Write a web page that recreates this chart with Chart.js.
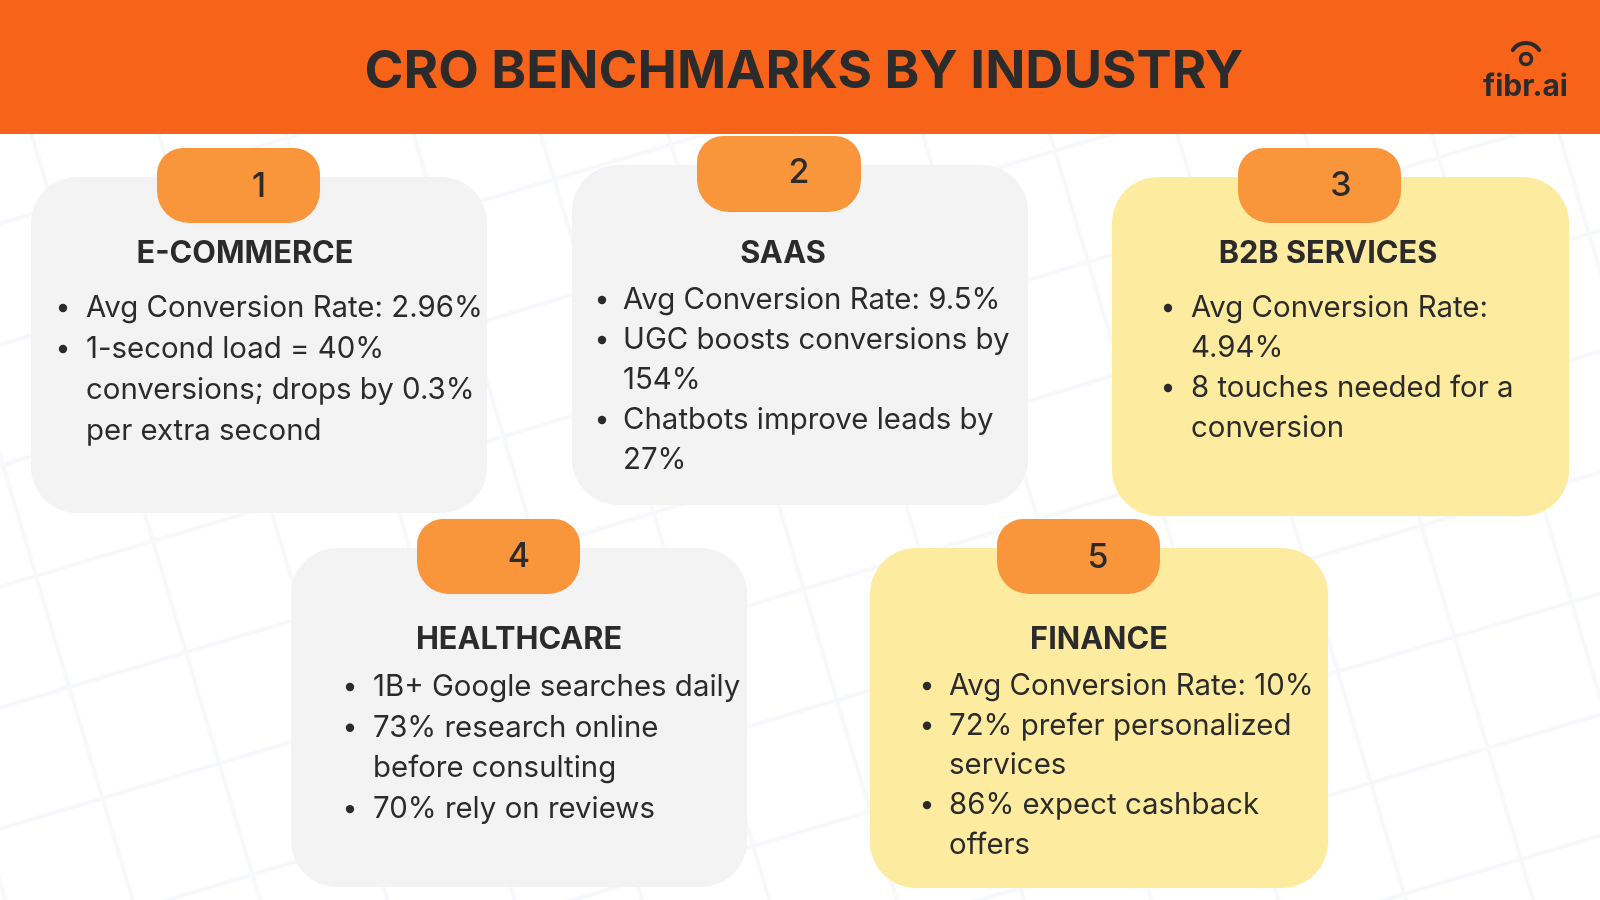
<!DOCTYPE html>
<html>
<head>
<meta charset="utf-8">
<title>CRO Benchmarks by Industry</title>
<script src="https://cdn.jsdelivr.net/npm/chart.js@4/dist/chart.umd.min.js"></script>
<style>
  html, body { margin: 0; padding: 0; background: #ffffff; }
  #wrap { width: 1600px; height: 900px; }
</style>
</head>
<body>
<div id="wrap"><canvas id="board" width="1600" height="900"></canvas></div>
<script>
// ---- content ----
const pageTitle = 'CRO BENCHMARKS BY INDUSTRY';
const brand = 'fibr.ai';
const cardNumbers = ['1', '2', '3', '4', '5'];
const industries = ['E-COMMERCE', 'SAAS', 'B2B SERVICES', 'HEALTHCARE', 'FINANCE'];
// each bullet is a list of its wrapped lines
const ecommerceBullets = [
  ['Avg Conversion Rate: 2.96%'],
  ['1-second load = 40%', 'conversions; drops by 0.3%', 'per extra second']
];
const saasBullets = [
  ['Avg Conversion Rate: 9.5%'],
  ['UGC boosts conversions by', '154%'],
  ['Chatbots improve leads by', '27%']
];
const b2bBullets = [
  ['Avg Conversion Rate:', '4.94%'],
  ['8 touches needed for a', 'conversion']
];
const healthcareBullets = [
  ['1B+ Google searches daily'],
  ['73% research online', 'before consulting'],
  ['70% rely on reviews']
];
const financeBullets = [
  ['Avg Conversion Rate: 10%'],
  ['72% prefer personalized', 'services'],
  ['86% expect cashback', 'offers']
];
const cardBullets = [ecommerceBullets, saasBullets, b2bBullets, healthcareBullets, financeBullets];

// ---- layout (page units, 1600 x 900) ----
const GRAY = '#f3f3f3';
const YELLOW = '#fdeca0';
const cardLayout = [
  { box: [31, 177, 487, 513],   tab: [157, 148, 320, 223],  num: [259, 187], titleY: 254, dotX: 63,   textX: 86,   lineY: 308, gap: 41,   fill: GRAY },
  { box: [572, 165, 1028, 505], tab: [697, 136, 861, 212],  num: [799, 173], titleY: 254, dotX: 602,  textX: 623,  lineY: 300, gap: 40,   fill: GRAY },
  { box: [1112, 177, 1569, 516], tab: [1238, 148, 1401, 223], num: [1341, 186], titleY: 254, dotX: 1168, textX: 1191, lineY: 308, gap: 40,   fill: YELLOW },
  { box: [291, 548, 747, 887],  tab: [417, 519, 580, 594],  num: [519, 557], titleY: 640, dotX: 350,  textX: 373,  lineY: 687, gap: 40.7, fill: GRAY },
  { box: [870, 548, 1328, 888], tab: [997, 519, 1160, 594], num: [1098, 558], titleY: 640, dotX: 927,  textX: 949,  lineY: 686, gap: 39.7, fill: YELLOW }
];
const titleCenters = [245, 783, 1328, 519, 1099];
const INK = '#2b2b2b';
const HEADER = '#f76318';
const TAB = '#f9963b';

function fitSize(ctx, text, weight, family, width) {
  ctx.font = weight + ' 100px ' + family;
  return 100 * width / ctx.measureText(text).width;
}

const boardPlugin = {
  id: 'board',
  beforeDraw(chart) {
    const ctx = chart.ctx;
    const sx = chart.scales.x, sy = chart.scales.y;
    const px = v => sx.getPixelForValue(v);
    const py = v => sy.getPixelForValue(v);

    ctx.save();
    ctx.fillStyle = '#ffffff';
    ctx.fillRect(0, 0, chart.width, chart.height);

    // faint tilted grid in the background
    ctx.save();
    ctx.translate(px(36), py(576));
    ctx.rotate(-0.29);
    ctx.strokeStyle = '#f7f8fc';
    ctx.lineWidth = 4;
    for (let k = -20; k <= 20; k++) {
      ctx.beginPath();
      ctx.moveTo(k * 122, -2000); ctx.lineTo(k * 122, 2000);
      ctx.moveTo(-2000, k * 116); ctx.lineTo(2000, k * 116);
      ctx.stroke();
    }
    ctx.restore();

    // header band
    ctx.fillStyle = HEADER;
    ctx.fillRect(px(0), py(0), px(1600) - px(0), py(134) - py(0));

    const fam = 'Inter, "Noto Sans", sans-serif';
    ctx.fillStyle = INK;
    ctx.textAlign = 'center';
    ctx.textBaseline = 'alphabetic';
    const hs = fitSize(ctx, pageTitle, '700', fam, 879);
    ctx.font = '700 ' + hs + 'px ' + fam;
    ctx.fillText(pageTitle, px(804), py(88));

    // logo
    ctx.textAlign = 'left';
    const ls = fitSize(ctx, brand, '700', fam, 85);
    ctx.font = '700 ' + ls + 'px ' + fam;
    ctx.fillText(brand, px(1483), py(96));
    ctx.strokeStyle = INK;
    ctx.lineWidth = 3.5;
    ctx.beginPath();
    ctx.arc(px(1526), py(59), 5.5, 0, Math.PI * 2);
    ctx.stroke();
    ctx.lineWidth = 4;
    ctx.lineCap = 'round';
    ctx.beginPath();
    ctx.arc(px(1526), py(59), 16, Math.PI * 1.19, Math.PI * 1.81);
    ctx.stroke();

    // cards
    const bodySize = fitSize(ctx, ecommerceBullets[0][0], '400', fam, 397);
    const headSize = fitSize(ctx, industries[0], '700', fam, 217);
    cardLayout.forEach((c, i) => {
      const [x0, y0, x1, y1] = c.box;
      ctx.fillStyle = c.fill;
      ctx.beginPath();
      ctx.roundRect(px(x0), py(y0), px(x1) - px(x0), py(y1) - py(y0), 46);
      ctx.fill();

      const [t0, u0, t1, u1] = c.tab;
      ctx.fillStyle = TAB;
      ctx.beginPath();
      ctx.roundRect(px(t0), py(u0), px(t1) - px(t0), py(u1) - py(u0), [26, 26, 32, 32]);
      ctx.fill();

      ctx.fillStyle = INK;
      ctx.textAlign = 'center';
      ctx.textBaseline = 'middle';
      ctx.font = '500 34px ' + fam;
      ctx.fillText(cardNumbers[i], px(c.num[0]), py(c.num[1]));

      ctx.font = '700 ' + headSize + 'px ' + fam;
      ctx.fillText(industries[i], px(titleCenters[i]), py(c.titleY));

      ctx.textAlign = 'left';
      ctx.font = '400 ' + bodySize + 'px ' + fam;
      let row = 0;
      cardBullets[i].forEach(lines => {
        ctx.beginPath();
        ctx.arc(px(c.dotX), py(c.lineY + row * c.gap), 4.2, 0, Math.PI * 2);
        ctx.fill();
        lines.forEach(line => {
          ctx.fillText(line, px(c.textX), py(c.lineY + row * c.gap));
          row++;
        });
      });
    });
    ctx.restore();
  }
};

new Chart(document.getElementById('board'), {
  type: 'scatter',
  data: { datasets: [{ data: [], pointRadius: 0 }] },
  options: {
    responsive: false,
    animation: false,
    devicePixelRatio: 1,
    layout: { padding: 0 },
    scales: {
      x: { type: 'linear', min: 0, max: 1600, display: false },
      y: { type: 'linear', min: 0, max: 900, reverse: true, display: false }
    },
    plugins: { legend: { display: false }, tooltip: { enabled: false }, title: { display: false } }
  },
  plugins: [boardPlugin]
});
</script>
</body>
</html>
